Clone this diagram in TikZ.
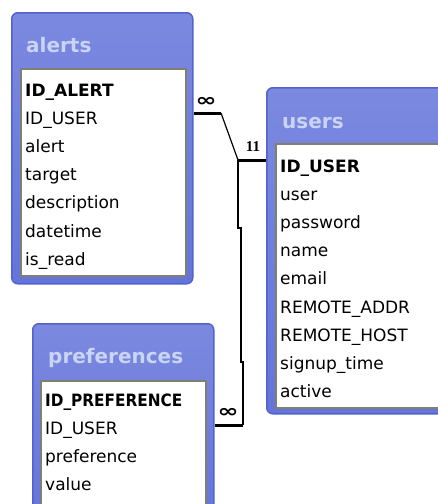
\documentclass[tikz,border=0pt]{standalone}
\usepackage{fontspec}
\setmainfont{DejaVu Sans}
\newfontfamily\cardfont{Liberation Serif}
\usetikzlibrary{positioning}
\definecolor{tblue}{RGB}{100,116,218}
\definecolor{tedge}{RGB}{84,98,204}
\definecolor{ttitle}{RGB}{202,212,246}
\definecolor{tpanel}{RGB}{128,128,112}
\tikzset{
  tableframe/.style={draw=tedge, line width=1.5pt, top color=tblue!85!white,
    bottom color=tblue, rounded corners=6pt, anchor=north west, inner sep=0pt},
  fieldpanel/.style={fill=white, draw=tpanel, line width=1.5pt,
    anchor=north west, inner sep=0pt},
  tabletitle/.style={font=\fontsize{20}{24}\selectfont\bfseries, text=ttitle,
    anchor=base west, inner sep=0pt},
  field/.style={font=\fontsize{17}{20}\selectfont, anchor=base west, inner sep=0pt},
  keyfield/.style={field, font=\fontsize{17}{20}\selectfont\bfseries},
  relmany/.style={line width=3pt},
  relline/.style={line width=1.2pt},
  cardlabel/.style={font=\cardfont\fontsize{15}{15}\selectfont\bfseries, inner sep=0pt},
  manylabel/.style={font=\fontsize{18}{18}\selectfont\bfseries, inner sep=0pt}
}

\begin{document}
\begin{tikzpicture}[x=1pt, y=-1pt]
  \useasboundingbox (0,0) rectangle (438,504);
  \clip (0,0) rectangle (438,504);

  % alerts
  \node[tableframe, minimum width=181pt, minimum height=271pt] (alerts) at (11,12) {};
  \node[fieldpanel, minimum width=165pt, minimum height=207pt] (alertsF) at (20,68) {};
  \node[tabletitle] (alertsT) at (26,52) {alerts};
  \node[keyfield] (alerts-1) at (25,96) {ID\_ALERT};
  \foreach \f [count=\i from 2] in {ID\_USER, alert, target, description, datetime, is\_read}
    \node[field] (alerts-\i) at (25,{96+28.2*(\i-1)}) {\f};

  % users
  \node[tableframe, minimum width=190pt, minimum height=326pt] (users) at (266,87) {};
  \node[fieldpanel, minimum width=180pt, minimum height=264pt] (usersF) at (275,143) {};
  \node[tabletitle] (usersT) at (282,128) {users};
  \node[keyfield] (users-1) at (280,172) {ID\_USER};
  \foreach \f [count=\i from 2] in {user, password, name, email, REMOTE\_ADDR,
      REMOTE\_HOST, signup\_time, active}
    \node[field] (users-\i) at (280,{172+28.2*(\i-1)}) {\f};

  % preferences
  \node[tableframe, minimum width=181pt, minimum height=200pt] (prefs) at (32,323) {};
  \node[fieldpanel, minimum width=165pt, minimum height=140pt] (prefsF) at (40,380) {};
  \node[tabletitle] (prefsT) at (48,363) {preferences};
  \node[keyfield] (prefs-1) at (45,406.5) {\scalebox{0.9}[1]{ID\_PREFERENCE}};
  \foreach \f [count=\i from 2] in {ID\_USER, preference, value}
    \node[field] (prefs-\i) at (45,{406.5+28*(\i-1)}) {\f};

  % relationships
  \coordinate (aBend) at (221,113);
  \coordinate (uJoin) at (238,160);
  \coordinate (pBend) at (243,425);
  \draw[relmany] (alerts.east |- aBend) -- (aBend);
  \draw[relline] (aBend) -- (uJoin);
  \draw[relmany] (uJoin) -- (users.west |- uJoin);
  \draw[relline] (uJoin) -- ++(0,68) -- ++(3,0) -- ++(0,134) -- ++(2,0) -- (pBend);
  \draw[relmany] (pBend) -- (prefs.east |- pBend);

  \node[manylabel] (aMany) at (206,102) {\scalebox{1.4}[1]{∞}};
  \node[cardlabel] (uOne) at (253,147) {11};
  \node[manylabel] (pMany) at (228,413) {\scalebox{1.4}[1]{∞}};
\end{tikzpicture}
\end{document}
